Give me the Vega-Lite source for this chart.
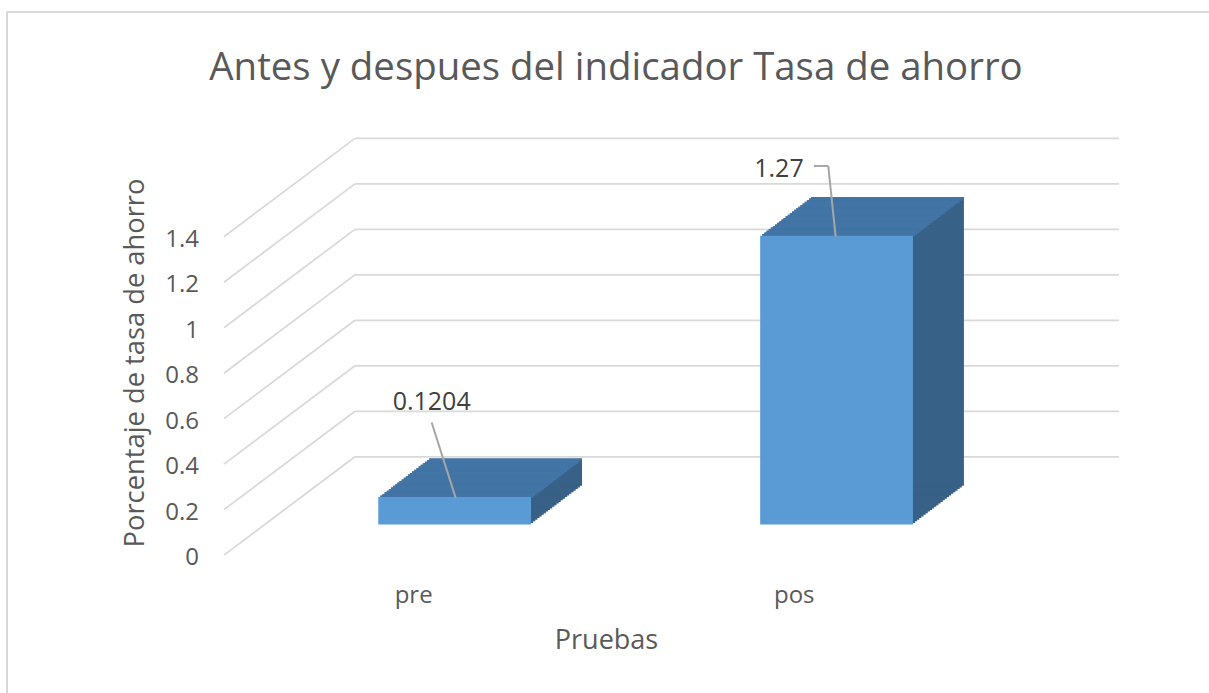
{
  "$schema": "https://vega.github.io/schema/vega-lite/v6.json",
  "width": 1202,
  "height": 681,
  "autosize": "none",
  "padding": {"left": 7, "top": 12, "right": 0, "bottom": 0},
  "background": "white",
  "config": {
    "view": {"stroke": "#d9d9d9", "strokeWidth": 2, "strokeDash": [1202, 1883, 681]},
    "font": "Open Sans"
  },
  "title": {
    "text": "Antes y despues del indicador Tasa de ahorro",
    "font": "Open Sans",
    "fontSize": 38.4,
    "fontWeight": "normal",
    "color": "#595959",
    "anchor": "middle",
    "frame": "group",
    "baseline": "alphabetic",
    "dx": 8,
    "dy": 110
  },
  "layer": [
    {
      "data": {"values": [
        {"v": 0, "desde": "pre", "hasta": "pos"},
        {"v": 0.2, "desde": "pre", "hasta": "pos"},
        {"v": 0.4, "desde": "pre", "hasta": "pos"},
        {"v": 0.6, "desde": "pre", "hasta": "pos"},
        {"v": 0.8, "desde": "pre", "hasta": "pos"},
        {"v": 1, "desde": "pre", "hasta": "pos"},
        {"v": 1.2, "desde": "pre", "hasta": "pos"},
        {"v": 1.4, "desde": "pre", "hasta": "pos"}
      ]},
      "layer": [
        {
          "mark": {"type": "rule", "color": "#d9d9d9", "strokeWidth": 1.8, "xOffset": -99.7, "x2Offset": 282.4, "yOffset": -67.7},
          "encoding": {
            "x": {"field": "desde", "type": "nominal"},
            "x2": {"field": "hasta"},
            "y": {"field": "v", "type": "quantitative"}
          }
        },
        {
          "mark": {"type": "rule", "color": "#d9d9d9", "strokeWidth": 1.8, "xOffset": -230.7, "x2Offset": -99.7, "yOffset": 30.6, "y2Offset": -67.7},
          "encoding": {
            "x": {"field": "desde", "type": "nominal"},
            "x2": {"field": "desde"},
            "y": {"field": "v", "type": "quantitative"},
            "y2": {"field": "v"}
          }
        }
      ]
    },
    {
      "data": {"values": [
        {"Prueba": "pre", "valor": 0.1204},
        {"Prueba": "pos", "valor": 1.27}
      ]},
      "encoding": {
        "x": {
          "field": "Prueba", "type": "nominal", "sort": ["pre", "pos"],
          "scale": {"domain": ["pre", "pos"], "range": [256.7, 1020.5], "paddingInner": 0.6, "paddingOuter": 0.3},
          "axis": {
            "title": "Pruebas", "orient": "bottom", "offset": -91, "labelPadding": 0, "labelBaseline": "alphabetic",
            "labelOffset": -22, "labelAngle": 0, "ticks": false, "tickSize": 0, "domain": false, "grid": false,
            "labelFont": "Open Sans", "labelFontSize": 24, "labelColor": "#595959",
            "titleFont": "Open Sans", "titleFontSize": 27, "titleFontWeight": "normal", "titleColor": "#595959",
            "titleX": 599, "titleY": 46, "titleBaseline": "alphabetic", "titleAlign": "center"
          }
        },
        "y": {
          "field": "valor", "type": "quantitative",
          "scale": {"domain": [0, 1.4], "range": [512.5, 194.1], "nice": false, "zero": true},
          "axis": {
            "title": "Porcentaje de tasa de ahorro", "orient": "left", "offset": -191.5, "labelPadding": 0,
            "values": [0, 0.2, 0.4, 0.6, 0.8, 1, 1.2, 1.4], "format": "~g",
            "labelOffset": 33, "ticks": false, "tickSize": 0, "domain": false, "grid": false,
            "labelFont": "Open Sans", "labelFontSize": 24, "labelColor": "#595959",
            "titleFont": "Open Sans", "titleFontSize": 27.3, "titleFontWeight": "normal", "titleColor": "#595959",
            "titleX": -55.2, "titleY": 350.5, "titleAngle": -90, "titleBaseline": "alphabetic", "titleAlign": "center"
          }
        }
      },
      "layer": [
        {"mark": {"type": "bar", "color": "#386187", "xOffset": 2.125, "x2Offset": 2.125, "yOffset": -1.6125, "y2Offset": -1.6125}},
        {"mark": {"type": "bar", "color": "#386187", "xOffset": 4.25, "x2Offset": 4.25, "yOffset": -3.225, "y2Offset": -3.225}},
        {"mark": {"type": "bar", "color": "#386187", "xOffset": 6.375, "x2Offset": 6.375, "yOffset": -4.8375, "y2Offset": -4.8375}},
        {"mark": {"type": "bar", "color": "#386187", "xOffset": 8.5, "x2Offset": 8.5, "yOffset": -6.45, "y2Offset": -6.45}},
        {"mark": {"type": "bar", "color": "#386187", "xOffset": 10.625, "x2Offset": 10.625, "yOffset": -8.0625, "y2Offset": -8.0625}},
        {"mark": {"type": "bar", "color": "#386187", "xOffset": 12.75, "x2Offset": 12.75, "yOffset": -9.675, "y2Offset": -9.675}},
        {"mark": {"type": "bar", "color": "#386187", "xOffset": 14.875, "x2Offset": 14.875, "yOffset": -11.2875, "y2Offset": -11.2875}},
        {"mark": {"type": "bar", "color": "#386187", "xOffset": 17, "x2Offset": 17, "yOffset": -12.9, "y2Offset": -12.9}},
        {"mark": {"type": "bar", "color": "#386187", "xOffset": 19.125, "x2Offset": 19.125, "yOffset": -14.5125, "y2Offset": -14.5125}},
        {"mark": {"type": "bar", "color": "#386187", "xOffset": 21.25, "x2Offset": 21.25, "yOffset": -16.125, "y2Offset": -16.125}},
        {"mark": {"type": "bar", "color": "#386187", "xOffset": 23.375, "x2Offset": 23.375, "yOffset": -17.7375, "y2Offset": -17.7375}},
        {"mark": {"type": "bar", "color": "#386187", "xOffset": 25.5, "x2Offset": 25.5, "yOffset": -19.35, "y2Offset": -19.35}},
        {"mark": {"type": "bar", "color": "#386187", "xOffset": 27.625, "x2Offset": 27.625, "yOffset": -20.9625, "y2Offset": -20.9625}},
        {"mark": {"type": "bar", "color": "#386187", "xOffset": 29.75, "x2Offset": 29.75, "yOffset": -22.575, "y2Offset": -22.575}},
        {"mark": {"type": "bar", "color": "#386187", "xOffset": 31.875, "x2Offset": 31.875, "yOffset": -24.1875, "y2Offset": -24.1875}},
        {"mark": {"type": "bar", "color": "#386187", "xOffset": 34, "x2Offset": 34, "yOffset": -25.8, "y2Offset": -25.8}},
        {"mark": {"type": "bar", "color": "#386187", "xOffset": 36.125, "x2Offset": 36.125, "yOffset": -27.4125, "y2Offset": -27.4125}},
        {"mark": {"type": "bar", "color": "#386187", "xOffset": 38.25, "x2Offset": 38.25, "yOffset": -29.025, "y2Offset": -29.025}},
        {"mark": {"type": "bar", "color": "#386187", "xOffset": 40.375, "x2Offset": 40.375, "yOffset": -30.6375, "y2Offset": -30.6375}},
        {"mark": {"type": "bar", "color": "#386187", "xOffset": 42.5, "x2Offset": 42.5, "yOffset": -32.25, "y2Offset": -32.25}},
        {"mark": {"type": "bar", "color": "#386187", "xOffset": 44.625, "x2Offset": 44.625, "yOffset": -33.8625, "y2Offset": -33.8625}},
        {"mark": {"type": "bar", "color": "#386187", "xOffset": 46.75, "x2Offset": 46.75, "yOffset": -35.475, "y2Offset": -35.475}},
        {"mark": {"type": "bar", "color": "#386187", "xOffset": 48.875, "x2Offset": 48.875, "yOffset": -37.0875, "y2Offset": -37.0875}},
        {"mark": {"type": "bar", "color": "#386187", "xOffset": 51, "x2Offset": 51, "yOffset": -38.7, "y2Offset": -38.7}},
        {"mark": {"type": "bar", "color": "#4275a5", "xOffset": 2.125, "x2Offset": 2.125, "yOffset": -1.6125, "y2Offset": 0.5875}, "encoding": {"y2": {"field": "valor"}}},
        {"mark": {"type": "bar", "color": "#4275a5", "xOffset": 4.25, "x2Offset": 4.25, "yOffset": -3.225, "y2Offset": -1.025}, "encoding": {"y2": {"field": "valor"}}},
        {"mark": {"type": "bar", "color": "#4275a5", "xOffset": 6.375, "x2Offset": 6.375, "yOffset": -4.8375, "y2Offset": -2.6375}, "encoding": {"y2": {"field": "valor"}}},
        {"mark": {"type": "bar", "color": "#4275a5", "xOffset": 8.5, "x2Offset": 8.5, "yOffset": -6.45, "y2Offset": -4.25}, "encoding": {"y2": {"field": "valor"}}},
        {"mark": {"type": "bar", "color": "#4275a5", "xOffset": 10.625, "x2Offset": 10.625, "yOffset": -8.0625, "y2Offset": -5.8625}, "encoding": {"y2": {"field": "valor"}}},
        {"mark": {"type": "bar", "color": "#4275a5", "xOffset": 12.75, "x2Offset": 12.75, "yOffset": -9.675, "y2Offset": -7.475}, "encoding": {"y2": {"field": "valor"}}},
        {"mark": {"type": "bar", "color": "#4275a5", "xOffset": 14.875, "x2Offset": 14.875, "yOffset": -11.2875, "y2Offset": -9.0875}, "encoding": {"y2": {"field": "valor"}}},
        {"mark": {"type": "bar", "color": "#4275a5", "xOffset": 17, "x2Offset": 17, "yOffset": -12.9, "y2Offset": -10.7}, "encoding": {"y2": {"field": "valor"}}},
        {"mark": {"type": "bar", "color": "#4275a5", "xOffset": 19.125, "x2Offset": 19.125, "yOffset": -14.5125, "y2Offset": -12.3125}, "encoding": {"y2": {"field": "valor"}}},
        {"mark": {"type": "bar", "color": "#4275a5", "xOffset": 21.25, "x2Offset": 21.25, "yOffset": -16.125, "y2Offset": -13.925}, "encoding": {"y2": {"field": "valor"}}},
        {"mark": {"type": "bar", "color": "#4275a5", "xOffset": 23.375, "x2Offset": 23.375, "yOffset": -17.7375, "y2Offset": -15.5375}, "encoding": {"y2": {"field": "valor"}}},
        {"mark": {"type": "bar", "color": "#4275a5", "xOffset": 25.5, "x2Offset": 25.5, "yOffset": -19.35, "y2Offset": -17.15}, "encoding": {"y2": {"field": "valor"}}},
        {"mark": {"type": "bar", "color": "#4275a5", "xOffset": 27.625, "x2Offset": 27.625, "yOffset": -20.9625, "y2Offset": -18.7625}, "encoding": {"y2": {"field": "valor"}}},
        {"mark": {"type": "bar", "color": "#4275a5", "xOffset": 29.75, "x2Offset": 29.75, "yOffset": -22.575, "y2Offset": -20.375}, "encoding": {"y2": {"field": "valor"}}},
        {"mark": {"type": "bar", "color": "#4275a5", "xOffset": 31.875, "x2Offset": 31.875, "yOffset": -24.1875, "y2Offset": -21.9875}, "encoding": {"y2": {"field": "valor"}}},
        {"mark": {"type": "bar", "color": "#4275a5", "xOffset": 34, "x2Offset": 34, "yOffset": -25.8, "y2Offset": -23.6}, "encoding": {"y2": {"field": "valor"}}},
        {"mark": {"type": "bar", "color": "#4275a5", "xOffset": 36.125, "x2Offset": 36.125, "yOffset": -27.4125, "y2Offset": -25.2125}, "encoding": {"y2": {"field": "valor"}}},
        {"mark": {"type": "bar", "color": "#4275a5", "xOffset": 38.25, "x2Offset": 38.25, "yOffset": -29.025, "y2Offset": -26.825}, "encoding": {"y2": {"field": "valor"}}},
        {"mark": {"type": "bar", "color": "#4275a5", "xOffset": 40.375, "x2Offset": 40.375, "yOffset": -30.6375, "y2Offset": -28.4375}, "encoding": {"y2": {"field": "valor"}}},
        {"mark": {"type": "bar", "color": "#4275a5", "xOffset": 42.5, "x2Offset": 42.5, "yOffset": -32.25, "y2Offset": -30.05}, "encoding": {"y2": {"field": "valor"}}},
        {"mark": {"type": "bar", "color": "#4275a5", "xOffset": 44.625, "x2Offset": 44.625, "yOffset": -33.8625, "y2Offset": -31.6625}, "encoding": {"y2": {"field": "valor"}}},
        {"mark": {"type": "bar", "color": "#4275a5", "xOffset": 46.75, "x2Offset": 46.75, "yOffset": -35.475, "y2Offset": -33.275}, "encoding": {"y2": {"field": "valor"}}},
        {"mark": {"type": "bar", "color": "#4275a5", "xOffset": 48.875, "x2Offset": 48.875, "yOffset": -37.0875, "y2Offset": -34.8875}, "encoding": {"y2": {"field": "valor"}}},
        {"mark": {"type": "bar", "color": "#4275a5", "xOffset": 51, "x2Offset": 51, "yOffset": -38.7, "y2Offset": -36.5}, "encoding": {"y2": {"field": "valor"}}},
        {"mark": {"type": "bar", "color": "#5b9bd5"}},
        {
          "transform": [{"filter": "datum.Prueba === 'pre'"}],
          "layer": [
            {
              "mark": {"type": "rule", "color": "#a6a6a6", "strokeWidth": 2, "xOffset": -23, "yOffset": -74.6, "x2Offset": 1, "y2Offset": 0.8},
              "encoding": {"x2": {"field": "Prueba"}, "y2": {"field": "valor"}}
            },
            {
              "mark": {"type": "text", "font": "Open Sans", "fontSize": 25, "color": "#404040", "align": "center", "baseline": "middle", "xOffset": -23, "yOffset": -95.6},
              "encoding": {"text": {"field": "valor", "type": "quantitative", "format": "~g"}}
            }
          ]
        },
        {
          "transform": [{"filter": "datum.Prueba === 'pos'"}],
          "layer": [
            {
              "mark": {"type": "rule", "color": "#a6a6a6", "strokeWidth": 2, "xOffset": -22.6, "yOffset": -69.7, "x2Offset": -8.3, "y2Offset": -69.7},
              "encoding": {"x2": {"field": "Prueba"}, "y2": {"field": "valor"}}
            },
            {
              "mark": {"type": "rule", "color": "#a6a6a6", "strokeWidth": 2, "xOffset": -8.3, "yOffset": -69.7, "x2Offset": -0.9, "y2Offset": 1},
              "encoding": {"x2": {"field": "Prueba"}, "y2": {"field": "valor"}}
            },
            {
              "mark": {"type": "text", "font": "Open Sans", "fontSize": 25, "color": "#404040", "align": "center", "baseline": "middle", "xOffset": -57.6, "yOffset": -66.5},
              "encoding": {"text": {"field": "valor", "type": "quantitative", "format": "~g"}}
            }
          ]
        }
      ]
    }
  ]
}
